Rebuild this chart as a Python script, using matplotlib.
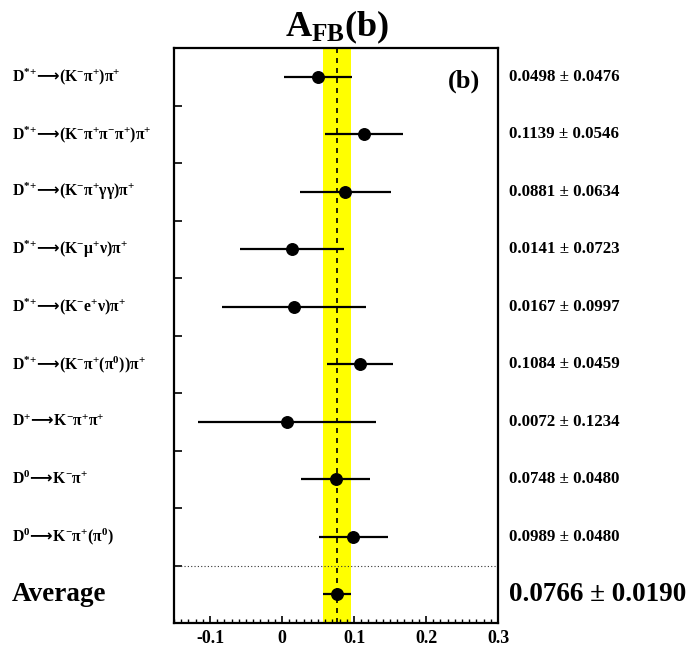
import matplotlib
matplotlib.use("Agg")
import matplotlib.pyplot as plt
import matplotlib.transforms as mtransforms
from matplotlib.ticker import MultipleLocator, FixedLocator

plt.rcParams['font.family'] = ['Liberation Serif', 'DejaVu Serif']
plt.rcParams['font.weight'] = 'bold'
plt.rcParams['mathtext.fontset'] = 'custom'
plt.rcParams['mathtext.rm'] = 'Liberation Serif:bold'
plt.rcParams['mathtext.it'] = 'Liberation Serif:bold'
plt.rcParams['mathtext.bf'] = 'Liberation Serif:bold'
plt.rcParams['mathtext.sf'] = 'DejaVu Sans'
plt.rcParams['mathtext.default'] = 'regular'

AR = r"$\!\mathsf{\longrightarrow}\!$"
DS = "D$^{*{+}}$"
channels = [
    DS + AR + "(K$^{-}$π$^{+}$)π$^{+}$",
    DS + AR + "(K$^{-}$π$^{+}$π$^{-}$π$^{+}$)π$^{+}$",
    DS + AR + "(K$^{-}$π$^{+}$γγ)π$^{+}$",
    DS + AR + "(K$^{-}$μ$^{+}$ν)π$^{+}$",
    DS + AR + "(K$^{-}$e$^{+}$ν)π$^{+}$",
    DS + AR + "(K$^{-}$π$^{+}$(π$^{0}$))π$^{+}$",
    "D$^{+}$" + AR + "K$^{-}$π$^{+}$π$^{+}$",
    "D$^{0}$" + AR + "K$^{-}$π$^{+}$",
    "D$^{0}$" + AR + "K$^{-}$π$^{+}$(π$^{0}$)",
]
values = [0.0498, 0.1139, 0.0881, 0.0141, 0.0167, 0.1084, 0.0072, 0.0748, 0.0989]
errors = [0.0476, 0.0546, 0.0634, 0.0723, 0.0997, 0.0459, 0.1234, 0.0480, 0.0480]
avg_value = 0.0766
avg_error = 0.0190
xticks = [-0.1, 0.0, 0.1, 0.2, 0.3]
xtick_labels = ["-0.1", "0", "0.1", "0.2", "0.3"]

W, H = 686, 654
fig = plt.figure(figsize=(W / 100, H / 100), dpi=100)
ax = fig.add_axes([174 / W, 1 - 623 / H, (498 - 174) / W, (623 - 48) / H])

n = len(channels)
ax.set_xlim(-0.15, 0.3)
ax.set_ylim(0, n + 1)

# average band and line
ax.axvspan(avg_value - avg_error, avg_value + avg_error, color='#ffff00', zorder=1, lw=0)
ax.axvline(avg_value, color='black', ls=(0, (3, 3)), lw=1.2, zorder=2)
ax.axhline(1, color='#333333', ls=(0, (1, 2)), lw=0.8, zorder=2)

ys = [n + 0.5 - i for i in range(n)]
ax.errorbar(values, ys, xerr=errors, fmt='o', color='black', ms=8.3, lw=1.6,
            capsize=0, zorder=3)
ax.errorbar([avg_value], [0.5], xerr=[avg_error], fmt='o', color='black', ms=8.3,
            lw=1.6, capsize=0, zorder=3)

ax.set_xticks(xticks)
ax.set_xticklabels(xtick_labels, fontsize=13, fontweight='bold')
ax.xaxis.set_minor_locator(MultipleLocator(0.01))
ax.tick_params(axis='x', which='major', direction='in', length=5.2, width=1.2,
               top=False, pad=5)
ax.tick_params(axis='x', which='minor', direction='in', length=2.6, width=1.0,
               top=False)
ax.yaxis.set_major_locator(FixedLocator(list(range(1, n + 1))))
ax.tick_params(axis='y', which='major', direction='in', length=5.6, width=1.2,
               left=True, right=False, labelleft=False)
for s in ax.spines.values():
    s.set_linewidth(1.6)

trans = mtransforms.blended_transform_factory(fig.transFigure, ax.transData)
for lab, y, v, e in zip(channels, ys, values, errors):
    ax.text(12 / W, y, lab, transform=trans, ha='left', va='center',
            fontsize=11.3, fontweight='bold')
    ax.text(509 / W, y, f"{v:.4f} ± {e:.4f}", transform=trans, ha='left',
            va='center', fontsize=12.2, fontweight='bold')
ax.text(12 / W, 0.5, "Average", transform=trans, ha='left', va='center',
        fontsize=19.5, fontweight='bold')
ax.text(509 / W, 0.5, f"{avg_value:.4f} ± {avg_error:.4f}", transform=trans,
        ha='left', va='center', fontsize=19.5, fontweight='bold')

ax.text(0.2755, n + 0.42, "(b)", ha='right', va='center', fontsize=19,
        fontweight='bold', zorder=4)

fig.text(337 / W, 1 - 46 / H, "A$_{FB}$(b)", ha='center', va='bottom',
         fontsize=26, fontweight='bold')

fig.savefig("out.png", dpi=100)
